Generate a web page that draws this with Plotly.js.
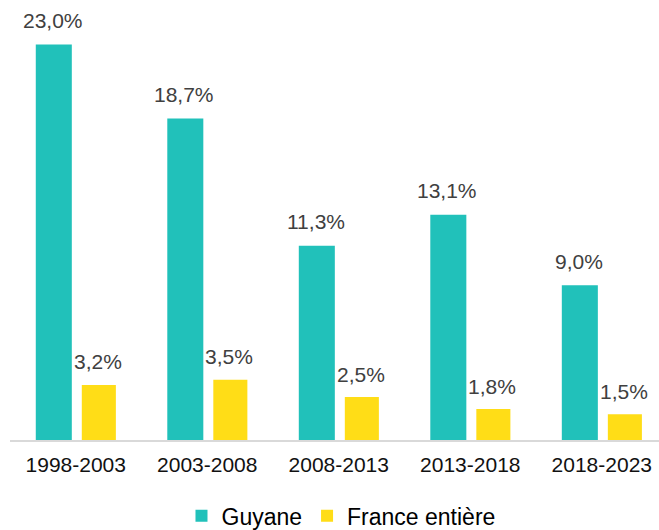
<!DOCTYPE html>
<html>
<head>
<meta charset="utf-8">
<script src="https://cdn.plot.ly/plotly-3.0.1.min.js"></script>
<style>html,body{margin:0;padding:0;background:#fff;}#chart{width:659px;height:530px;}</style>
</head>
<body>
<div id="chart"></div>
<script>
var categories = ["1998-2003", "2003-2008", "2008-2013", "2013-2018", "2018-2023"];
var guyane = [23.0, 18.7, 11.3, 13.1, 9.0];
var france = [3.2, 3.5, 2.5, 1.8, 1.5];
var seriesNames = ["Guyane", "France entière"];

var fmt = function(v){ return v.toFixed(1).replace('.', ',') + '%'; };

var gOff = -0.304, gW = 0.274, fOff = 0.046, fW = 0.259;

var traces = [
  {type:'bar', name:seriesNames[0], x:categories, y:guyane, offset:gOff, width:gW,
   marker:{color:'#21C1BA', line:{width:0}}, hoverinfo:'none'},
  {type:'bar', name:seriesNames[1], x:categories, y:france, offset:fOff, width:fW,
   marker:{color:'#FFDD17', line:{width:0}}, hoverinfo:'none'}
];

var annotations = [];
categories.forEach(function(c, i){
  annotations.push({x:i + gOff + gW/2, y:guyane[i], xref:'x', yref:'y', text:fmt(guyane[i]),
    showarrow:false, yanchor:'middle', yshift:24, xshift:-1, font:{family:'Liberation Sans, Arial', size:21, color:'#404040'}});
  annotations.push({x:i + fOff + fW/2, y:france[i], xref:'x', yref:'y', text:fmt(france[i]),
    showarrow:false, yanchor:'middle', yshift:23, xshift:-1, font:{family:'Liberation Sans, Arial', size:21, color:'#404040'}});
});

var layout = {
  width:659, height:530,
  margin:{l:10, r:0, t:19, b:90, autoexpand:false},
  paper_bgcolor:'#fff', plot_bgcolor:'#fff',
  font:{family:'Liberation Sans, Arial', color:'#000'},
  barmode:'group',
  xaxis:{type:'category', categoryarray:categories, range:[-0.5, 4.435], showline:true, linecolor:'#d9d9d9', linewidth:2,
    ticks:'', showgrid:false, zeroline:false, tickfont:{size:21, color:'#111'}, ticklabelstandoff:5, fixedrange:true, automargin:false},
  yaxis:{range:[0, 24.48], showgrid:false, zeroline:false, showticklabels:false, ticks:'', showline:false, automargin:false},
  showlegend:true,
  legend:{orientation:'h', x:0.51, xanchor:'center', y:-0.18, yanchor:'middle', font:{size:23, color:'#000'}, itemwidth:30, traceorder:'normal'},
  annotations:annotations
};

Plotly.newPlot('chart', traces, layout, {displayModeBar:false, staticPlot:true});
</script>
</body>
</html>
